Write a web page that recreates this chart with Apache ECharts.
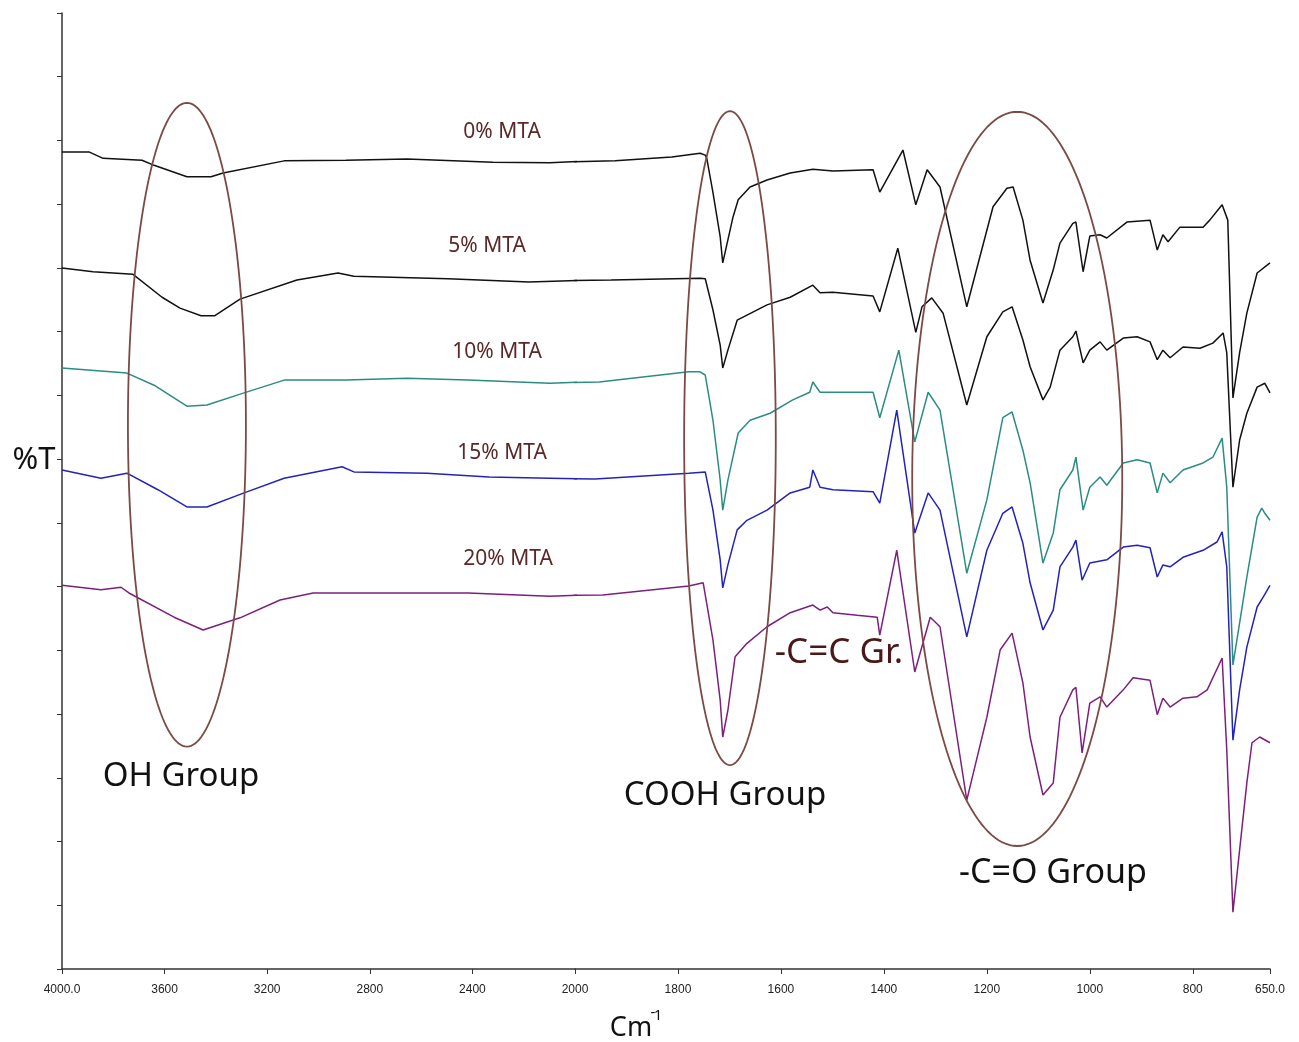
<!DOCTYPE html>
<html><head><meta charset="utf-8">
<script src="https://cdn.jsdelivr.net/npm/echarts@6/dist/echarts.min.js"></script>
<style>html,body{margin:0;padding:0;background:#fff}#c{width:1299px;height:1042px}</style>
</head><body><div id="c"></div>
<script>
// ---- data: [wavenumber cm-1, %T (arbitrary offset units)] ----
const seriesNames = ['0% MTA', '5% MTA', '10% MTA', '15% MTA', '20% MTA'];
const mta0 = [[4000,128.2],[3895,128.2],[3840,127.2],[3688,126.9],[3641,126.1],[3513,124.3],[3419,124.3],[3372,124.9],[3134,126.8],[2893,126.9],[2655,127.1],[2320,126.6],[2098,126.5],[1922,126.8],[1812,127.4],[1757,128.0],[1747,127.7],[1744,127.2],[1732,121.8],[1718,114.9],[1713,110.8],[1703,114.4],[1693,118.0],[1683,120.7],[1660,122.7],[1627,123.8],[1582,124.9],[1538,125.5],[1499,125.2],[1421,125.4],[1408,121.9],[1363,128.5],[1338,119.9],[1316,125.4],[1291,122.7],[1239,103.9],[1188,119.6],[1161,122.5],[1149,122.7],[1130,117.5],[1116,111.2],[1091,104.5],[1071,109.7],[1058,113.9],[1033,117.0],[1027,117.2],[1013,109.4],[1000,115.0],[980,115.2],[967,114.7],[928,117.2],[883,117.5],[869,112.8],[858,115.2],[848,114.1],[825,116.4],[780,116.4],[767,117.5],[743,119.9],[732,117.5],[722,89.6],[709,96.7],[695,102.9],[675,109.2],[650,110.8]];
const mta5 = [[4000,110.0],[3879,109.4],[3723,109.0],[3610,105.4],[3540,103.7],[3458,102.5],[3404,102.5],[3306,105.1],[3084,108.1],[2924,109.2],[2862,108.7],[2495,108.3],[2179,107.8],[1930,108.1],[1757,108.4],[1747,108.3],[1732,103.4],[1718,97.9],[1713,94.3],[1703,97.1],[1685,101.8],[1666,102.6],[1627,104.2],[1582,105.4],[1538,107.3],[1524,106.1],[1499,106.2],[1421,105.6],[1408,103.1],[1373,113.1],[1338,99.9],[1326,103.9],[1307,105.3],[1285,102.9],[1239,88.5],[1200,99.2],[1169,103.1],[1151,103.9],[1130,98.7],[1116,94.5],[1091,89.3],[1077,91.3],[1058,97.1],[1033,99.2],[1027,100.1],[1013,95.1],[1000,97.1],[980,98.4],[967,97.1],[935,99.0],[908,99.2],[883,98.4],[869,95.6],[858,97.1],[844,95.9],[819,97.6],[786,97.4],[761,98.2],[741,99.8],[734,96.7],[722,75.6],[709,83.0],[695,87.2],[675,91.3],[660,91.9],[650,90.4]];
const mta10 = [[4000,94.3],[3747,93.5],[3641,91.6],[3513,88.3],[3435,88.5],[3290,90.4],[3134,92.4],[2893,92.4],[2655,92.7],[2417,92.4],[2098,91.9],[1953,92.1],[1779,93.7],[1757,93.7],[1747,93.2],[1732,86.1],[1718,76.7],[1713,72.0],[1703,76.7],[1683,84.1],[1660,86.1],[1621,87.2],[1577,89.3],[1544,90.5],[1538,92.1],[1524,90.5],[1499,90.5],[1421,90.5],[1408,86.5],[1371,97.1],[1340,82.7],[1314,90.5],[1291,87.7],[1239,62.1],[1200,73.6],[1169,86.5],[1151,87.4],[1130,81.4],[1116,76.3],[1091,63.7],[1071,68.4],[1058,75.2],[1033,78.3],[1027,80.3],[1013,72.0],[1000,75.6],[980,77.2],[967,75.9],[935,79.4],[908,79.9],[883,79.4],[869,74.7],[858,77.8],[844,76.3],[819,78.3],[780,79.4],[761,80.3],[743,83.3],[734,75.6],[722,47.7],[709,54.3],[695,61.5],[675,70.9],[666,72.3],[660,71.5],[650,70.4]];
const mta15 = [[4000,78.3],[3848,77.0],[3747,77.8],[3626,75.2],[3513,72.5],[3435,72.5],[3290,74.7],[3134,77.0],[2908,78.8],[2862,78.0],[2577,77.8],[2335,77.2],[2098,77.0],[1961,76.9],[1779,77.8],[1747,78.0],[1732,72.0],[1718,64.2],[1713,59.8],[1703,63.4],[1685,68.9],[1666,70.4],[1627,72.0],[1582,74.7],[1544,75.6],[1538,78.3],[1524,75.6],[1499,75.2],[1421,74.9],[1408,73.1],[1375,87.7],[1340,68.4],[1314,74.7],[1291,72.0],[1239,52.1],[1200,65.7],[1169,71.5],[1151,72.5],[1130,66.8],[1116,60.6],[1091,53.2],[1071,56.3],[1058,63.1],[1033,66.2],[1027,67.3],[1015,61.0],[1000,63.7],[967,64.2],[935,66.2],[908,66.5],[883,66.1],[869,61.5],[858,63.4],[844,63.1],[819,64.6],[780,65.7],[753,67.0],[743,68.6],[734,63.1],[722,35.9],[709,43.8],[695,50.5],[675,56.8],[663,58.4],[650,60.2]];
const mta20 = [[4000,60.2],[3848,59.5],[3770,59.9],[3739,59.0],[3563,55.2],[3450,53.2],[3306,55.1],[3150,57.9],[3021,59.0],[2784,59.0],[2417,59.0],[2098,58.5],[1946,58.7],[1779,60.1],[1751,60.6],[1732,51.6],[1718,42.2],[1713,36.4],[1703,40.6],[1689,49.0],[1666,51.1],[1627,53.7],[1582,55.9],[1538,57.1],[1524,56.3],[1510,56.8],[1499,55.9],[1452,55.5],[1413,55.2],[1408,52.4],[1375,65.7],[1340,46.6],[1310,55.2],[1291,53.7],[1239,26.5],[1200,39.5],[1174,50.1],[1151,52.7],[1130,44.9],[1116,36.4],[1091,27.3],[1071,29.2],[1058,39.5],[1033,43.8],[1027,44.2],[1015,33.9],[1000,41.7],[980,42.7],[967,41.1],[935,43.8],[916,45.7],[883,45.3],[869,39.9],[858,42.5],[844,41.1],[819,42.5],[792,42.7],[772,43.8],[743,48.8],[734,34.4],[722,8.9],[709,18.7],[695,29.2],[685,35.5],[670,36.4],[650,35.5]];
const seriesColors = ['#111111', '#111111', '#2b8c84', '#2323bb', '#7d1f7d'];

// axis ticks (the x axis is expanded 2x below 2000 cm-1, as in the instrument plot)
const xTicksHigh = [4000, 3600, 3200, 2800, 2400, 2000];
const xTicksLow = [1800, 1600, 1400, 1200, 1000, 800, 650];

// group ellipses: [centre cm-1, centre %T, full width cm-1, full height %T]
const ellipsesHigh = [[3513, 85.4, 460, 101]];
const ellipsesLow = [[1699, 83.3, 178, 102.6], [1141, 76.9, 408, 115.2]];

const allSpectra = [mta0, mta5, mta10, mta15, mta20];

function splitPart(d, high) {
  const i = d.findIndex(p => p[0] < 2000);
  return high ? d.slice(0, i + 1) : d.slice(i - 1);
}

const chart = echarts.init(document.getElementById('c'), null, {renderer: 'canvas'});
const FONT = '"Noto Sans", "Open Sans", sans-serif';
const lblFmt = v => (v === 4000 || v === 650) ? v.toFixed(1) : String(v);
const axisLab = {color: '#222', fontSize: 12, fontFamily: '"Liberation Sans", Arial, sans-serif', margin: 15, formatter: lblFmt};

const series = [];
allSpectra.forEach((d, k) => {
  [true, false].forEach(high => {
    series.push({
      name: seriesNames[k], type: 'line', xAxisIndex: high ? 0 : 1, yAxisIndex: high ? 0 : 1,
      data: splitPart(d, high), symbol: 'none', clip: true, silent: true,
      lineStyle: {color: seriesColors[k], width: 1.5}
    });
  });
});
function ellipseRender(params, api) {
  const c = api.coord([api.value(0), api.value(1)]);
  const s = api.size([api.value(2), api.value(3)]);
  const pts = [];
  for (let i = 0; i <= 180; i++) {
    const t = i / 180 * 2 * Math.PI;
    pts.push([c[0] + s[0] / 2 * Math.cos(t), c[1] + s[1] / 2 * Math.sin(t)]);
  }
  return {type: 'polyline', shape: {points: pts}, style: {fill: null, stroke: '#7b4a44', lineWidth: 1.8}};
}
series.push({type: 'custom', xAxisIndex: 0, yAxisIndex: 0, data: ellipsesHigh, renderItem: ellipseRender, z: 5, silent: true, clip: false, encode: {x: 0, y: 1}});
series.push({type: 'custom', xAxisIndex: 1, yAxisIndex: 1, data: ellipsesLow, renderItem: ellipseRender, z: 5, silent: true, clip: false, encode: {x: 0, y: 1}});

const txt = (s, x, y, size, color) => ({type: 'text', x, y, z: 10, silent: true,
  style: {text: s, fontSize: size, fontFamily: FONT, fill: color, align: 'center', verticalAlign: 'middle'}});

chart.setOption({
  animation: false,
  backgroundColor: '#fff',
  grid: [
    {left: 62, top: 13, width: 513, bottom: 73},
    {left: 575, top: 13, right: 29, bottom: 73}
  ],
  xAxis: [
    {gridIndex: 0, type: 'value', min: 2000, max: 4000, interval: 400, inverse: true,
     axisLine: {lineStyle: {color: '#333', width: 1.5}}, axisTick: {length: 5, lineStyle: {color: '#333'}},
     axisLabel: axisLab, splitLine: {show: false}},
    {gridIndex: 1, type: 'value', min: 650, max: 2000, inverse: true,
     axisLine: {lineStyle: {color: '#333', width: 1.5}},
     axisTick: {length: 5, lineStyle: {color: '#333'}, customValues: xTicksLow},
     axisLabel: Object.assign({}, axisLab, {customValues: xTicksLow}), splitLine: {show: false}}
  ],
  yAxis: [
    {gridIndex: 0, type: 'value', min: 0, max: 150, interval: 10,
     axisLine: {show: true, lineStyle: {color: '#333', width: 1.5}}, axisTick: {show: true, length: 5, lineStyle: {color: '#333'}},
     axisLabel: {show: false}, splitLine: {show: false}},
    {gridIndex: 1, type: 'value', min: 0, max: 150, interval: 10, show: false}
  ],
  series,
  graphic: [
    txt('0% MTA', 502, 132, 21, '#5a2828'),
    txt('5% MTA', 487, 246, 21, '#5a2828'),
    txt('10% MTA', 497, 352, 21, '#5a2828'),
    txt('15% MTA', 502, 453, 21, '#5a2828'),
    txt('20% MTA', 508, 559, 21, '#5a2828'),
    txt('OH Group', 181, 777, 33, '#111'),
    txt('COOH Group', 725, 796, 33, '#111'),
    txt('-C=C Gr.', 839, 653, 35, '#4a1818'),
    txt('-C=O Group', 1053, 873, 34, '#111'),
    txt('%T', 34, 460, 31, '#111'),
    txt('Cm', 631, 1028, 27, '#111'),
    txt('-', 653, 1013, 15, '#111'),
    txt('1', 658, 1016, 15, '#111')
  ]
});
</script></body></html>
